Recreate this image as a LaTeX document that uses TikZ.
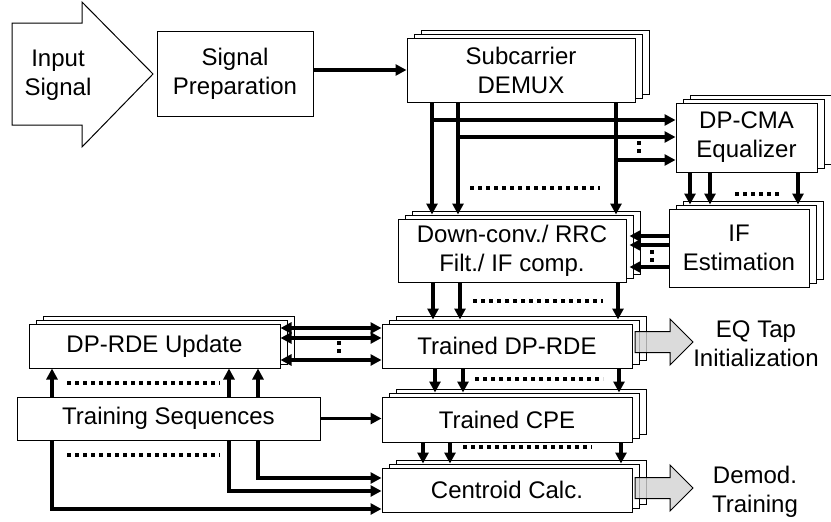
\documentclass[tikz,border=0pt]{standalone}
\usepackage{fontspec}
\setmainfont{Liberation Sans}
\usetikzlibrary{arrows.meta,shadows}

\tikzset{
  blk/.style={draw, fill=white, line width=1pt, inner sep=0pt, align=center,
    font=\fontsize{24}{29}\selectfont},
  stk/.style={blk,
    copy shadow={shadow xshift=14pt, shadow yshift=8pt, draw, fill=white, line width=1pt},
    copy shadow={shadow xshift=7pt, shadow yshift=4pt, draw, fill=white, line width=1pt}},
  ln/.style={line width=3.4pt},
  sig/.style={ln, ->},
  sigin/.style={sig, shorten >=4pt},
  dots/.style={line width=3.6pt, dash pattern=on 3.6pt off 4.4pt},
  bigarrow/.style={draw, line width=1pt, fill=gray!35, fill opacity=0.8},
  lbl/.style={inner sep=0pt, align=center, font=\fontsize{24}{29}\selectfont}
}

\begin{document}
\begin{tikzpicture}[x=1pt, y=-1pt, >={Triangle[length=11pt,width=11pt]}]
\useasboundingbox (0,0) rectangle (831,522);

% input arrow
\draw[line width=1pt] (12,23) -- (82,23) -- (82,2) -- (153,74) -- (82,147) -- (82,125) -- (12,125) -- cycle;
\node[lbl] (insig) at (58,75) {Input\\Signal};

% blocks
\node[blk, minimum width=156pt, minimum height=85pt] (prep) at (235,73.5) {Signal\\Preparation};
\node[stk, minimum width=228pt, minimum height=64pt] (demux) at (521,70) {Subcarrier\\DEMUX};
\node[stk, minimum width=141pt, minimum height=69pt] (cma) at (746.5,137.5) {DP-CMA\\Equalizer};
\node[stk, minimum width=228pt, minimum height=63pt] (down) at (512,250.5) {Down-conv./ RRC\\Filt./ IF comp.};
\node[stk, minimum width=140pt, minimum height=78pt] (ifest) at (739,248) {IF\\Estimation};
\node[stk, minimum width=250pt, minimum height=44pt] (rde) at (507,346) {Trained DP-RDE};
\node[stk, minimum width=250pt, minimum height=45pt] (cpe) at (507,419.5) {Trained CPE};
\node[stk, minimum width=250pt, minimum height=44pt] (cent) at (507,490) {Centroid Calc.};
\node[stk, minimum width=251pt, minimum height=44pt] (upd) at (154.5,346) {DP-RDE Update};
\node[blk, minimum width=303pt, minimum height=43pt] (train) at (168.5,418.5) {Training Sequences};

\draw[sig] (prep.east |- demux) -- (demux.west);

% demux -> down-conv, taps to equalizer
\foreach \x/\y [count=\i] in {432/120,458/137,616/160} {
  \coordinate (d\i) at (\x,\y);
  \draw[sigin] (demux.south -| d\i) -- (down.north -| d\i);
  \draw[sig] (d\i) -- (cma.west |- d\i);
}
\draw[dots] (470,188) -- (600,188);
\draw[dots] (639,141) -- (639,153);

% equalizer -> IF estimation
\foreach \x [count=\i] in {690,710,798} {
  \coordinate (e\i) at (\x,0);
  \draw[sigin] (cma.south -| e\i) -- (ifest.north -| e\i);
}
\draw[dots] (735,194) -- (782,194);

% IF estimation -> down-conv
\foreach \y [count=\i] in {236,245,267} {
  \coordinate (f\i) at (0,\y);
  \draw[sig, shorten >=3pt] (ifest.west |- f\i) -- (down.east |- f\i);
}
\draw[dots] (652,250) -- (652,262);

% down-conv -> RDE -> CPE -> centroid
\foreach \x [count=\i] in {433,460,618} {
  \coordinate (p\i) at (\x,0);
  \draw[sigin] (down.south -| p\i) -- (rde.north -| p\i);
}
\draw[dots] (473,301) -- (603,301);
\foreach \x [count=\i] in {435,463,619} {
  \coordinate (q\i) at (\x,0);
  \draw[sigin] (rde.south -| q\i) -- (cpe.north -| q\i);
}
\draw[dots] (475,379) -- (603,379);
\foreach \x [count=\i] in {423,450,621} {
  \coordinate (r\i) at (\x,0);
  \draw[sigin] (cpe.south -| r\i) -- (cent.north -| r\i);
}
\draw[dots] (463,447) -- (592,447);

% update <-> trained RDE
\foreach \y [count=\i] in {328,338,360} {
  \coordinate (g\i) at (0,\y);
  \draw[ln,<->] (upd.east |- g\i) -- (rde.west |- g\i);
}
\draw[dots] (339,341) -- (339,353);

% training sequences
\foreach \x [count=\i] in {52,229,258} {
  \coordinate (h\i) at (\x,0);
  \draw[sig] (train.north -| h\i) -- (upd.south -| h\i);
}
\draw[dots] (67,383) -- (220,383);
\draw[sig] (train.east) -- (cpe.west |- train.east);
\coordinate (k1) at (0,478);
\coordinate (k2) at (0,491);
\coordinate (k3) at (0,509);
\draw[sig] (train.south -| h3) |- (cent.west |- k1);
\draw[sig] (train.south -| h2) |- (cent.west |- k2);
\draw[sig] (train.south -| h1) |- (cent.west |- k3);
\draw[dots] (67,455) -- (220,455);

% outputs
\foreach \y in {342,488}
  \draw[bigarrow] (635,\y-10.5) -- (670,\y-10.5) -- (670,\y-23) -- (693,\y)
    -- (670,\y+23) -- (670,\y+10.5) -- (635,\y+10.5) -- cycle;
\node[lbl] (eqtxt) at (756,344) {EQ Tap\\Initialization};
\node[lbl] (demtxt) at (755,492) {Demod.\\Training};
\end{tikzpicture}
\end{document}
